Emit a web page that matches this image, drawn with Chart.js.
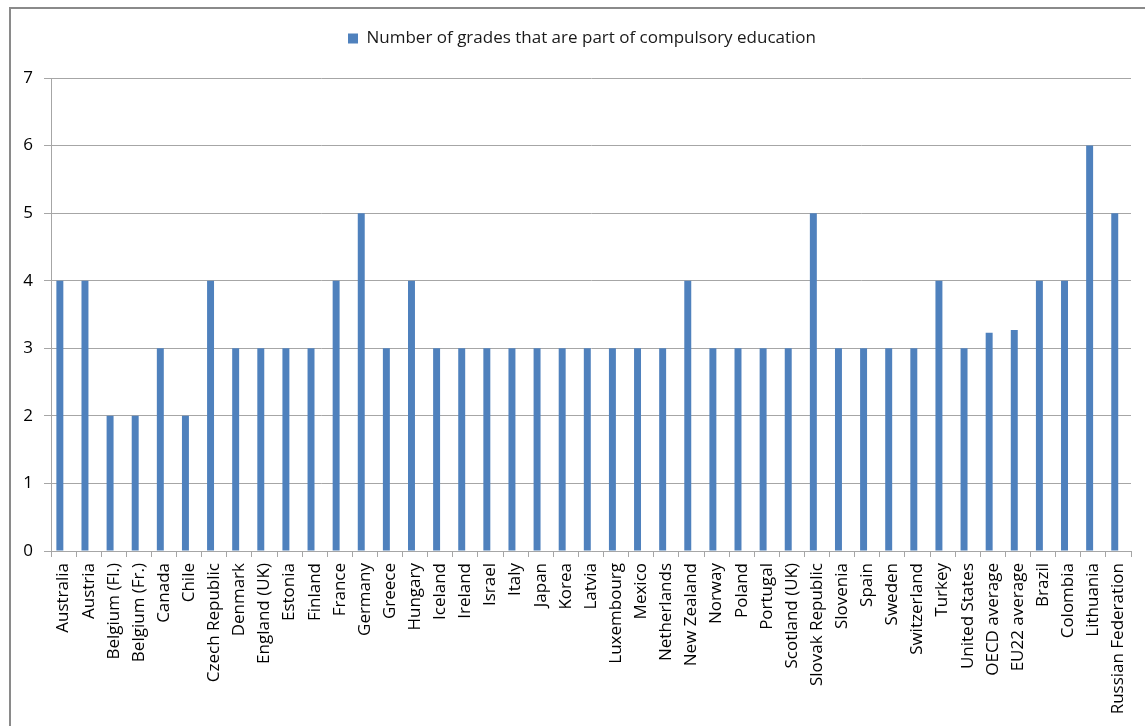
<!DOCTYPE html>
<html lang="en">
<head>
    <meta charset="UTF-8">
    <title>Compulsory education grades</title>
    <script src="https://cdn.jsdelivr.net/npm/chart.js"></script>
    <style>
        html, body {
            margin: 0;
            padding: 0;
            background: #ffffff;
        }
        #wrap {
            position: relative;
            width: 1145px;
            height: 726px;
        }
    </style>
</head>
<body>

<div id="wrap">
    <canvas id="gradesChart" width="1145" height="726"></canvas>
</div>

<script>
    const countries = [
        'Australia', 'Austria', 'Belgium (Fl.)', 'Belgium (Fr.)', 'Canada', 'Chile',
        'Czech Republic', 'Denmark', 'England (UK)', 'Estonia', 'Finland', 'France',
        'Germany', 'Greece', 'Hungary', 'Iceland', 'Ireland', 'Israel', 'Italy',
        'Japan', 'Korea', 'Latvia', 'Luxembourg', 'Mexico', 'Netherlands',
        'New Zealand', 'Norway', 'Poland', 'Portugal', 'Scotland (UK)',
        'Slovak Republic', 'Slovenia', 'Spain', 'Sweden', 'Switzerland', 'Turkey',
        'United States', 'OECD average', 'EU22 average', 'Brazil', 'Colombia',
        'Lithuania', 'Russian Federation'
    ];

    const grades = [
        4, 4, 2, 2, 3, 2,
        4, 3, 3, 3, 3, 4,
        5, 3, 4, 3, 3, 3, 3,
        3, 3, 3, 3, 3, 3,
        4, 3, 3, 3, 3,
        5, 3, 3, 3, 3, 4,
        3, 3.23, 3.27, 4, 4,
        6, 5
    ];

    // the source sheet has a second, empty series next to the first one,
    // which is why every bar sits a little left of its category centre
    const emptySeries = countries.map(() => null);

    const yTicks = [0, 1, 2, 3, 4, 5, 6, 7];
    const seriesLabel = 'Number of grades that are part of compulsory education';

    const FONT = "'Open Sans', 'Liberation Sans', sans-serif";
    const GRID = '#a6a6a6';

    // outer frame of the original chart object
    const framePlugin = {
        id: 'frame',
        beforeDraw(chart) {
            const ctx = chart.ctx;
            ctx.save();
            ctx.strokeStyle = '#8a8a8a';
            ctx.lineWidth = 2;
            ctx.beginPath();
            ctx.moveTo(10, chart.height + 5);
            ctx.lineTo(10, 8);
            ctx.lineTo(chart.width + 5, 8);
            ctx.stroke();
            ctx.restore();
        }
    };

    // fixed legend band height, and nudge it right like the original
    const legendSize = {
        id: 'legendSize',
        beforeInit(chart) {
            const legend = chart.legend;
            const fit = legend.fit;
            legend.fit = function () {
                fit.call(this);
                this.height = 78;
            };
            const draw = legend.draw;
            legend.draw = function () {
                const ctx = this.ctx;
                ctx.save();
                ctx.translate(16, 0);
                draw.call(this);
                ctx.restore();
            };
        }
    };

    new Chart(document.getElementById('gradesChart'), {
        type: 'bar',
        data: {
            labels: countries,
            datasets: [{
                label: seriesLabel,
                data: grades,
                backgroundColor: '#4f81bd',
                borderWidth: 0,
                barPercentage: 0.94,
                categoryPercentage: 0.59
            }, {
                label: '',
                data: emptySeries,
                backgroundColor: '#c0504d',
                borderWidth: 0,
                barPercentage: 0.94,
                categoryPercentage: 0.59
            }]
        },
        options: {
            responsive: false,
            animation: false,
            devicePixelRatio: 1,
            layout: { padding: { top: 0, right: 13, bottom: 0, left: 0 } },
            plugins: {
                legend: {
                    position: 'top',
                    labels: {
                        font: { family: FONT, size: 17 },
                        color: '#1a1a1a',
                        boxWidth: 10,
                        boxHeight: 10,
                        padding: 30,
                        filter: item => item.text !== ''
                    }
                },
                tooltip: { enabled: false }
            },
            scales: {
                x: {
                    offset: true,
                    grid: {
                        offset: true,
                        drawOnChartArea: false,
                        drawTicks: true,
                        tickLength: 6,
                        color: GRID
                    },
                    border: { display: true, color: GRID },
                    ticks: {
                        autoSkip: false,
                        minRotation: 90,
                        maxRotation: 90,
                        padding: 6,
                        color: '#000',
                        font: { family: FONT, size: 17 }
                    },
                    afterFit(scale) { scale.height = 175; }
                },
                y: {
                    min: 0,
                    max: 7,
                    afterBuildTicks(scale) {
                        scale.ticks = yTicks.map(v => ({ value: v }));
                    },
                    grid: {
                        color: GRID,
                        tickLength: 7
                    },
                    border: { display: true, color: GRID },
                    ticks: {
                        padding: 11,
                        color: '#000',
                        font: { family: FONT, size: 17 }
                    },
                    afterFit(scale) { scale.width = 51; }
                }
            }
        },
        plugins: [framePlugin, legendSize]
    });
</script>

</body>
</html>
